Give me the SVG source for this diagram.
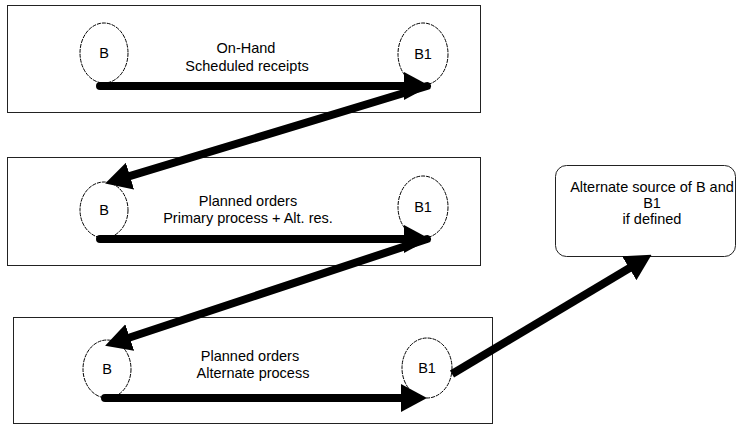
<svg xmlns="http://www.w3.org/2000/svg" width="736" height="426" viewBox="0 0 736 426">
<style>
.box{fill:#fff;stroke:#222;stroke-width:1}
.circ{fill:none;stroke:#000;stroke-width:1;stroke-dasharray:4 1}
.t{font-family:"Liberation Sans",Arial,sans-serif;font-size:14.5px;fill:#000;text-anchor:middle}
.c{fill:none;stroke:#000;stroke-width:8}
</style>
<defs>
<marker id="ah" markerUnits="userSpaceOnUse" markerWidth="26" markerHeight="28" refX="16" refY="14" orient="auto" viewBox="0 0 26 28">
<path d="M0,0 L26,14 L0,28 z" fill="#000"/>
</marker>
</defs>
<rect width="736" height="426" fill="#fff"/>
<g id="box1">
<rect class="box" x="7.5" y="5.5" width="473" height="107"/>
<text class="t" x="246" y="53">On-Hand</text>
<text class="t" x="247" y="71">Scheduled receipts</text>
</g>
<g id="box2">
<rect class="box" x="7.5" y="157.5" width="473" height="108"/>
<text class="t" x="248" y="206">Planned orders</text>
<text class="t" x="248" y="223">Primary process + Alt. res.</text>
</g>
<g id="box3">
<rect class="box" x="13.5" y="317.5" width="479" height="106"/>
<text class="t" x="250" y="361">Planned orders</text>
<text class="t" x="253" y="378">Alternate process</text>
</g>
<g id="b_1">
<ellipse class="circ" cx="104" cy="53" rx="24" ry="30"/>
<text class="t" x="104" y="58">B</text>
</g>
<g id="b1_1">
<ellipse class="circ" cx="423" cy="54" rx="25" ry="31"/>
<text class="t" x="423" y="59">B1</text>
</g>
<g id="b_2">
<ellipse class="circ" cx="104" cy="210" rx="24" ry="28"/>
<text class="t" x="104" y="215">B</text>
</g>
<g id="b1_2">
<ellipse class="circ" cx="423" cy="207" rx="25" ry="31"/>
<text class="t" x="423" y="212">B1</text>
</g>
<g id="b_3">
<ellipse class="circ" cx="107" cy="369" rx="24" ry="29"/>
<text class="t" x="107" y="374">B</text>
</g>
<g id="b1_3">
<ellipse class="circ" cx="427" cy="368" rx="25" ry="30"/>
<text class="t" x="427" y="373">B1</text>
</g>
<g id="alt">
<rect class="box" x="555.5" y="165.5" width="180" height="91" rx="11"/>
<text class="t" x="652" y="192">Alternate source of B and</text>
<text class="t" x="652" y="208">B1</text>
<text class="t" x="652" y="224">if defined</text>
</g>
<g id="connectors">
<path class="c" d="M100,86 L420,86" stroke-linecap="round" marker-end="url(#ah)"/>
<path class="c" d="M427,86 L114.7,180.7" stroke-linecap="round" marker-end="url(#ah)"/>
<path class="c" d="M100,239 L420,239" stroke-linecap="round" marker-end="url(#ah)"/>
<path class="c" d="M427,239 L114.6,342.5" stroke-linecap="round" marker-end="url(#ah)"/>
<path class="c" d="M105,398 L417,398" stroke-linecap="round" marker-end="url(#ah)"/>
<path class="c" d="M452,374 L643,260" stroke-width="7" marker-end="url(#ah)"/>
</g>
</svg>
